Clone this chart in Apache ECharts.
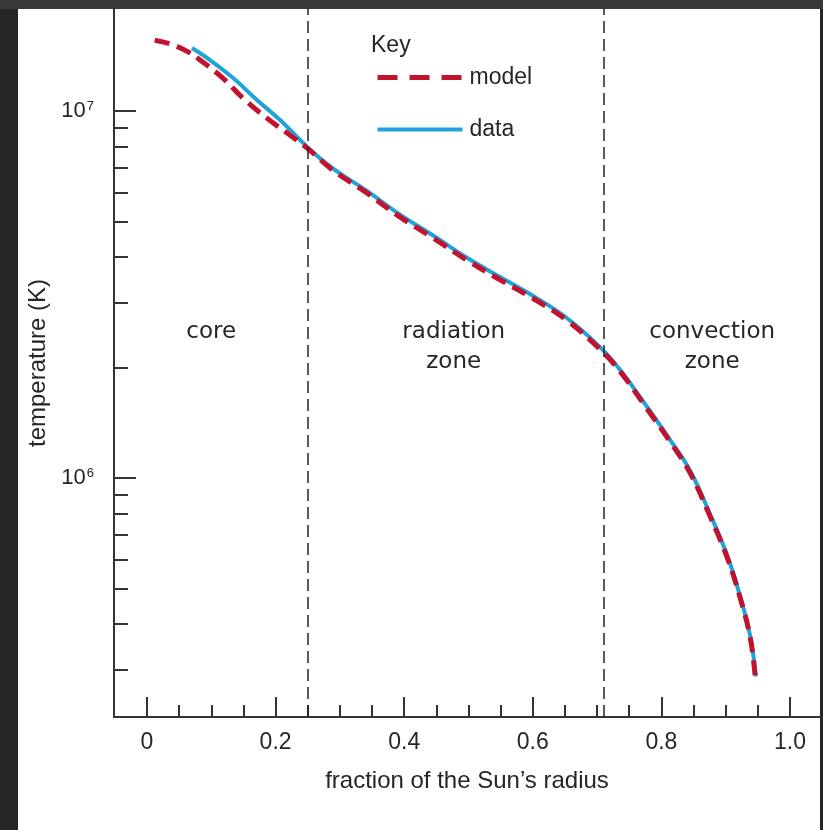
<!DOCTYPE html>
<html>
<head>
<meta charset="utf-8">
<script src="https://cdn.jsdelivr.net/npm/echarts@6/dist/echarts.min.js"></script>
<style>
  html, body { margin: 0; padding: 0; }
  body { width: 823px; height: 830px; background: #262626; position: relative; overflow: hidden; }
  .top-strip { position: absolute; left: 0; top: 0; width: 823px; height: 9px; background: #383838; }
  .paper { position: absolute; left: 18px; top: 9px; width: 802px; height: 821px; background: #fff; }
  #chart { position: absolute; left: 0; top: 0; width: 823px; height: 830px; }
</style>
</head>
<body>
<div class="top-strip"></div>
<div class="paper"></div>
<div id="chart"></div>
<script>
// solar model (dashed) and helioseismology data (solid)
const modelRadius = [0.012, 0.038, 0.064, 0.082, 0.118, 0.149, 0.187, 0.218, 0.250, 0.289, 0.342, 0.393, 0.445, 0.497, 0.549, 0.600, 0.653, 0.705, 0.736, 0.777, 0.813, 0.845, 0.876, 0.902, 0.922, 0.938, 0.946]
const modelTemp = [1.56e7, 1.52e7, 1.45e7, 1.38e7, 1.23e7, 1.085e7, 9.55e6, 8.71e6, 7.90e6, 6.90e6, 5.98e6, 5.15e6, 4.51e6, 3.93e6, 3.47e6, 3.09e6, 2.69e6, 2.24e6, 1.95e6, 1.55e6, 1.26e6, 1.03e6, 7.84e5, 6.10e5, 4.75e5, 3.69e5, 2.87e5]
const dataRadius = [0.070, 0.098, 0.134, 0.171, 0.207, 0.250, 0.289, 0.342, 0.393, 0.445, 0.497, 0.549, 0.600, 0.653, 0.705, 0.736, 0.777, 0.813, 0.845, 0.876, 0.902, 0.922, 0.938, 0.947]
const dataTemp = [1.485e7, 1.377e7, 1.23e7, 1.072e7, 9.45e6, 7.96e6, 6.98e6, 6.06e6, 5.23e6, 4.58e6, 3.99e6, 3.53e6, 3.14e6, 2.73e6, 2.27e6, 1.97e6, 1.57e6, 1.275e6, 1.045e6, 7.95e5, 6.18e5, 4.8e5, 3.72e5, 2.88e5]

// zone boundaries and labels
const zoneBounds = [0.25, 0.71]
const zoneNames = ['core', 'radiation\nzone', 'convection\nzone']
const zoneLabelX = [0.1, 0.477, 0.879]
const zoneLabelT = 2.75e6

// ticks
const xMajorTicks = [0, 0.2, 0.4, 0.6, 0.8, 1.0]
const xMinorTicks = [0.05, 0.1, 0.15, 0.25, 0.3, 0.35, 0.45, 0.5, 0.55, 0.65, 0.7, 0.75, 0.85, 0.9, 0.95]
const yMajorTicks = [1e6, 1e7]
const yMinorTicks = [3e5, 4e5, 5e5, 6e5, 7e5, 8e5, 9e5, 2e6, 3e6, 4e6, 5e6, 6e6, 7e6, 8e6, 9e6]

const xMin = -0.0513, xMax = 1.0467
const yMin = 2.233e5, yMax = 1.897e7

const sans = 'Liberation Sans, Arial, sans-serif'
const ink = '#262626'

const chart = echarts.init(document.getElementById('chart'))

const tickStyle = { color: '#333', width: 2 }

const option = {
  animation: false,
  grid: { left: 114, right: 3, top: 9, bottom: 113 },
  legend: {
    orient: 'vertical',
    left: 370,
    top: 61,
    itemWidth: 85,
    itemHeight: 22,
    itemGap: 29,
    selectedMode: false,
    itemStyle: { opacity: 0, borderWidth: 0 },
    textStyle: { fontSize: 23, color: ink, fontFamily: sans, padding: [0, 0, 0, 2] },
    data: [
      { name: 'model', lineStyle: { type: [20, 12], width: 5 } },
      { name: 'data', lineStyle: { width: 4 } }
    ]
  },
  xAxis: [
    {
      type: 'value', min: xMin, max: xMax, position: 'bottom',
      axisLine: { show: true, onZero: false, lineStyle: tickStyle },
      axisTick: { show: true, inside: true, length: 20, lineStyle: tickStyle, customValues: xMajorTicks },
      axisLabel: {
        customValues: xMajorTicks, margin: 14, fontSize: 23, color: ink, fontFamily: sans,
        formatter: v => (v === 0 ? '0' : v.toFixed(1))
      },
      splitLine: { show: false },
      name: 'fraction of the Sun\u2019s radius',
      nameLocation: 'middle',
      nameGap: 52,
      nameTextStyle: { fontSize: 24, color: ink, fontFamily: sans }
    },
    {
      type: 'value', min: xMin, max: xMax, position: 'bottom',
      axisLine: { show: false, onZero: false },
      axisTick: { show: true, inside: true, length: 12, lineStyle: tickStyle, customValues: xMinorTicks },
      axisLabel: { show: false },
      splitLine: { show: false }
    }
  ],
  yAxis: [
    {
      type: 'log', min: yMin, max: yMax, position: 'left',
      axisLine: { show: true, onZero: false, lineStyle: tickStyle },
      axisTick: { show: true, inside: true, length: 22, lineStyle: tickStyle, customValues: yMajorTicks },
      axisLabel: {
        customValues: yMajorTicks, margin: 20, color: ink,
        formatter: v => '{b|10}{s|' + Math.round(Math.log10(v)) + '}',
        rich: {
          b: { fontSize: 22, fontFamily: sans, color: ink },
          s: { fontSize: 13, fontFamily: sans, color: ink, verticalAlign: 'top', padding: [0, 0, 0, 1] }
        }
      },
      splitLine: { show: false },
      name: 'temperature (K)',
      nameLocation: 'middle',
      nameGap: 64,
      nameTextStyle: { fontSize: 24, color: ink, fontFamily: sans }
    },
    {
      type: 'log', min: yMin, max: yMax, position: 'left',
      axisLine: { show: false, onZero: false },
      axisTick: { show: true, inside: true, length: 14, lineStyle: tickStyle, customValues: yMinorTicks },
      axisLabel: { show: false },
      splitLine: { show: false }
    }
  ],
  series: [
    {
      name: 'data',
      type: 'line',
      xAxisIndex: 0,
      yAxisIndex: 0,
      smooth: 0.4,
      symbol: 'none',
      color: '#1fa3da',
      lineStyle: { color: '#1fa3da', width: 4 },
      data: dataRadius.map((r, i) => [r, dataTemp[i]]),
      markLine: {
        silent: true,
        symbol: ['none', 'none'],
        label: { show: false },
        lineStyle: { color: '#222', width: 1.5, type: [12, 6] },
        data: zoneBounds.map(b => ({ xAxis: b }))
      }
    },
    {
      name: 'model',
      type: 'line',
      xAxisIndex: 0,
      yAxisIndex: 0,
      smooth: 0.4,
      symbol: 'none',
      color: '#c3122f',
      lineStyle: { color: '#c3122f', width: 5, type: [15, 8] },
      data: modelRadius.map((r, i) => [r, modelTemp[i]])
    }
  ]
}

chart.setOption(option)

// region labels and the key title, placed from data coordinates
const labelEls = zoneNames.map((name, i) => {
  const p = chart.convertToPixel({ xAxisIndex: 0, yAxisIndex: 0 }, [zoneLabelX[i], zoneLabelT])
  return {
    type: 'text',
    x: p[0],
    y: p[1],
    silent: true,
    style: {
      text: name,
      fill: ink,
      font: '23px "DejaVu Sans", sans-serif',
      align: 'center',
      verticalAlign: 'top',
      lineHeight: 30
    }
  }
})
labelEls.push({
  type: 'text',
  left: 371,
  top: 34,
  silent: true,
  style: { text: 'Key', fill: ink, font: '23px ' + sans }
})

chart.setOption({ graphic: { elements: labelEls } })
</script>
</body>
</html>
